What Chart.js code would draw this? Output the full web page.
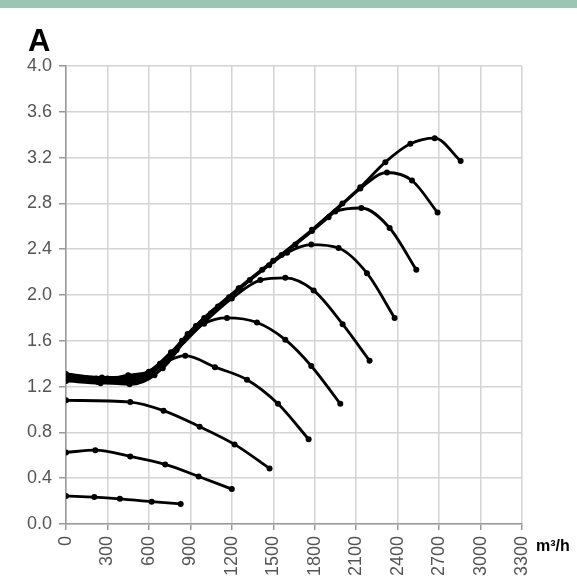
<!DOCTYPE html>
<html>
<head>
<meta charset="utf-8">
<script src="https://cdn.jsdelivr.net/npm/chart.js@4/dist/chart.umd.min.js"></script>
<style>
  html, body { margin: 0; padding: 0; background: #fff; }
  canvas { display: block; }
</style>
</head>
<body>
<canvas id="fanChart" width="577" height="585"></canvas>
<script>
// curves: [flow m3/h, pressure]
const curve1 = [[0, 0.245], [205, 0.235], [390, 0.22], [620, 0.195], [830, 0.175]];
const curve2 = [[0, 0.625], [212, 0.645], [465, 0.59], [718, 0.52], [960, 0.415], [1200, 0.305]];
const curve3 = [[0, 1.08], [465, 1.065], [706, 0.99], [967, 0.85], [1220, 0.695], [1473, 0.485]];
const curve4 = [[0, 1.29], [150, 1.27], [300, 1.27], [450, 1.30], [600, 1.33], [730, 1.42], [863, 1.47], [1078, 1.37], [1310, 1.26], [1534, 1.05], [1756, 0.74]];
const curve5 = [[0, 1.28], [170, 1.26], [340, 1.25], [510, 1.28], [680, 1.40], [850, 1.60], [1000, 1.75], [1165, 1.80], [1382, 1.76], [1587, 1.61], [1775, 1.38], [1985, 1.05]];
const curve6 = [[0, 1.27], [200, 1.25], [400, 1.24], [600, 1.30], [800, 1.52], [1000, 1.76], [1200, 1.97], [1406, 2.13], [1587, 2.15], [1792, 2.04], [2002, 1.745], [2197, 1.425]];
const curve7 = [[0, 1.30], [220, 1.27], [440, 1.27], [620, 1.33], [840, 1.60], [1050, 1.84], [1260, 2.06], [1470, 2.26], [1600, 2.37], [1775, 2.44], [1973, 2.41], [2178, 2.19], [2378, 1.80]];
const curve8 = [[0, 1.26], [230, 1.24], [460, 1.22], [640, 1.30], [880, 1.66], [1100, 1.90], [1330, 2.13], [1560, 2.35], [1780, 2.56], [1949, 2.73], [2137, 2.76], [2342, 2.585], [2535, 2.22]];
const curve9 = [[0, 1.25], [250, 1.23], [500, 1.24], [700, 1.36], [940, 1.73], [1180, 1.98], [1420, 2.22], [1660, 2.44], [1900, 2.68], [2130, 2.93], [2323, 3.07], [2504, 3.00], [2689, 2.72]];
const curve10 = [[0, 1.31], [260, 1.28], [520, 1.29], [760, 1.50], [1000, 1.80], [1250, 2.06], [1500, 2.30], [1780, 2.57], [2000, 2.80], [2130, 2.94], [2311, 3.16], [2492, 3.32], [2668, 3.37], [2856, 3.17]];

const curves = [curve1, curve2, curve3, curve4, curve5, curve6, curve7, curve8, curve9, curve10];

const xTicks = [0, 300, 600, 900, 1200, 1500, 1800, 2100, 2400, 2700, 3000, 3300];
const yTicks = [0, 0.4, 0.8, 1.2, 1.6, 2.0, 2.4, 2.8, 3.2, 3.6, 4.0];

const panelLabel = 'A';
const unitLabel = 'm³/h';

// header bar, panel letter and unit text
const decorPlugin = {
  id: 'decor',
  afterDraw(chart) {
    const ctx = chart.ctx;
    ctx.save();
    ctx.fillStyle = '#9cc6b4';
    ctx.fillRect(0, 0, chart.width, 8);
    ctx.fillStyle = '#000';
    ctx.font = 'bold 31px "Liberation Sans", Arial, sans-serif';
    ctx.textBaseline = 'alphabetic';
    ctx.fillText(panelLabel, 28, 51);
    ctx.font = 'bold 16px "Liberation Sans", Arial, sans-serif';
    ctx.fillText(unitLabel, 536, 551);
    ctx.restore();
  }
};

new Chart(document.getElementById('fanChart'), {
  type: 'line',
  data: {
    datasets: curves.map(c => ({
      data: c.map(p => ({ x: p[0], y: p[1] })),
      borderColor: '#000',
      backgroundColor: '#000',
      borderWidth: 2.8,
      pointRadius: 3,
      pointBorderWidth: 0,
      cubicInterpolationMode: 'monotone',
      fill: false
    }))
  },
  options: {
    responsive: false,
    animation: false,
    layout: { padding: { top: 66, right: 55, left: 0, bottom: 0 } },
    plugins: {
      legend: { display: false },
      tooltip: { enabled: false }
    },
    scales: {
      x: {
        type: 'linear',
        min: 0,
        max: 3300,
        afterBuildTicks: axis => { axis.ticks = xTicks.map(v => ({ value: v })); },
        afterFit: axis => { axis.height = 61; },
        ticks: {
          color: '#555',
          font: { family: '"Liberation Sans", Arial, sans-serif', size: 18 },
          minRotation: 90,
          maxRotation: 90,
          padding: 6,
          callback: v => String(v)
        },
        grid: { color: '#d4d4d4', lineWidth: 1.5, tickLength: 6, tickColor: '#999' },
        border: { color: '#999', width: 1.5 }
      },
      y: {
        min: 0,
        max: 4,
        afterBuildTicks: axis => { axis.ticks = yTicks.map(v => ({ value: v })); },
        afterFit: axis => { axis.width = 66; },
        ticks: {
          color: '#555',
          font: { family: '"Liberation Sans", Arial, sans-serif', size: 18 },
          padding: 7,
          callback: v => v.toFixed(1)
        },
        grid: { color: '#d4d4d4', lineWidth: 1.5, tickLength: 7, tickColor: '#999' },
        border: { color: '#999', width: 1.5 }
      }
    }
  },
  plugins: [decorPlugin]
});
</script>
</body>
</html>
